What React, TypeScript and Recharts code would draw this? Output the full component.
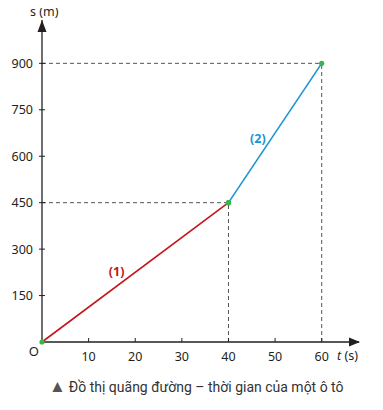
import { LineChart, Line, XAxis, YAxis, ReferenceLine, ReferenceDot } from "recharts";

// doan (1) va doan (2) cua do thi s-t
const seg1 = [
  { t: 0, s: 0 },
  { t: 40, s: 450 },
];
const seg2 = [
  { t: 40, s: 450 },
  { t: 60, s: 900 },
];
const xTicks = [10, 20, 30, 40, 50, 60];
const yTicks = [150, 300, 450, 600, 750, 900];

const font = "'Noto Sans', 'Open Sans', sans-serif";
const ink = "#231f20";

const YTick = (props: any) => {
  const { x, y, payload } = props;
  return (
    <g>
      <line x1={x - 3} x2={x + 3} y1={y} y2={y} stroke={ink} strokeWidth={1} />
      <text x={x - 9} y={y} dy={4.5} textAnchor="end" fontSize={12.5} fill={ink} fontFamily={font}>
        {payload.value}
      </text>
    </g>
  );
};

const XTick = (props: any) => {
  const { x, y, payload } = props;
  return (
    <g>
      <line x1={x} x2={x} y1={y - 4} y2={y} stroke={ink} strokeWidth={1} />
      <text x={x} y={y + 19} textAnchor="middle" fontSize={12.5} fill={ink} fontFamily={font}>
        {payload.value}
      </text>
    </g>
  );
};

const dashed = { stroke: "#555", strokeDasharray: "4 3", strokeWidth: 1 };

export default function App() {
  return (
    <div style={{ width: 375, marginTop: -8, fontFamily: font }}>
      <LineChart width={375} height={372} margin={{ top: 20, right: 24, bottom: 0, left: 4 }} style={{ overflow: "visible" }}>
        <XAxis
          type="number"
          dataKey="t"
          domain={[0, 68]}
          ticks={xTicks}
          tick={<XTick />}
          tickSize={0}
          tickMargin={0}
          height={30}
          axisLine={{ stroke: ink, strokeWidth: 1.3 }}
          allowDuplicatedCategory={false}
        />
        <YAxis
          type="number"
          dataKey="s"
          domain={[0, 1040]}
          ticks={yTicks}
          tick={<YTick />}
          tickSize={0}
          tickMargin={0}
          width={30}
          axisLine={{ stroke: ink, strokeWidth: 1.3 }}
        />
        <ReferenceLine segment={[{ x: 0, y: 900 }, { x: 60, y: 900 }]} {...dashed} />
        <ReferenceLine segment={[{ x: 60, y: 0 }, { x: 60, y: 900 }]} {...dashed} />
        <ReferenceLine segment={[{ x: 0, y: 450 }, { x: 40, y: 450 }]} {...dashed} />
        <ReferenceLine segment={[{ x: 40, y: 0 }, { x: 40, y: 450 }]} {...dashed} />
        <Line
          data={seg1}
          dataKey="s"
          stroke="#c4161c"
          strokeWidth={1.6}
          dot={{ r: 2.6, fill: "#3cb44a", stroke: "none" }}
          isAnimationActive={false}
        />
        <Line
          data={seg2}
          dataKey="s"
          stroke="#1a94d2"
          strokeWidth={1.6}
          dot={{ r: 2.6, fill: "#3cb44a", stroke: "none" }}
          isAnimationActive={false}
        />
        <ReferenceDot
          x={68}
          y={0}
          shape={(p: any) => (
            <g>
              <path d={`M${p.cx + 1},${p.cy} L${p.cx - 10},${p.cy - 4.5} L${p.cx - 10},${p.cy + 4.5} Z`} fill={ink} />
              <text x={p.cx - 22} y={p.cy + 18} fontSize={12.5} fill={ink} fontFamily={font}>
                <tspan fontStyle="italic">t</tspan> (s)
              </text>
            </g>
          )}
        />
        <ReferenceDot
          x={0}
          y={1040}
          shape={(p: any) => (
            <g>
              <path d={`M${p.cx},${p.cy} L${p.cx - 4.5},${p.cy + 12} L${p.cx + 4.5},${p.cy + 12} Z`} fill={ink} />
              <text x={p.cx - 12} y={p.cy - 4} fontSize={12.5} fill={ink} fontFamily={font}>
                s (m)
              </text>
            </g>
          )}
        />
        <ReferenceDot
          x={0}
          y={0}
          shape={(p: any) => (
            <text x={p.cx - 3} y={p.cy + 14} textAnchor="end" fontSize={13} fill={ink} fontFamily={font}>
              O
            </text>
          )}
        />
        <ReferenceDot
          x={16}
          y={229}
          shape={(p: any) => (
            <text x={p.cx} y={p.cy} dy={4.5} textAnchor="middle" fontSize={12.5} fontWeight={700} fill="#c4161c" fontFamily={font}>
              (1)
            </text>
          )}
        />
        <ReferenceDot
          x={46.3}
          y={658}
          shape={(p: any) => (
            <text x={p.cx} y={p.cy} dy={4.5} textAnchor="middle" fontSize={12.5} fontWeight={700} fill="#1a94d2" fontFamily={font}>
              (2)
            </text>
          )}
        />
      </LineChart>
      <div
        style={{
          marginTop: 5,
          marginLeft: 41,
          fontSize: 14,
          lineHeight: "18px",
          color: "#333",
          fontFamily: "'Liberation Sans Narrow', Roboto, sans-serif",
        }}
      >
        <span style={{ color: "#555", fontSize: 17, marginRight: 3 }}>▲</span>Đồ thị quãng đường – thời gian của một ô tô
      </div>
    </div>
  );
}
